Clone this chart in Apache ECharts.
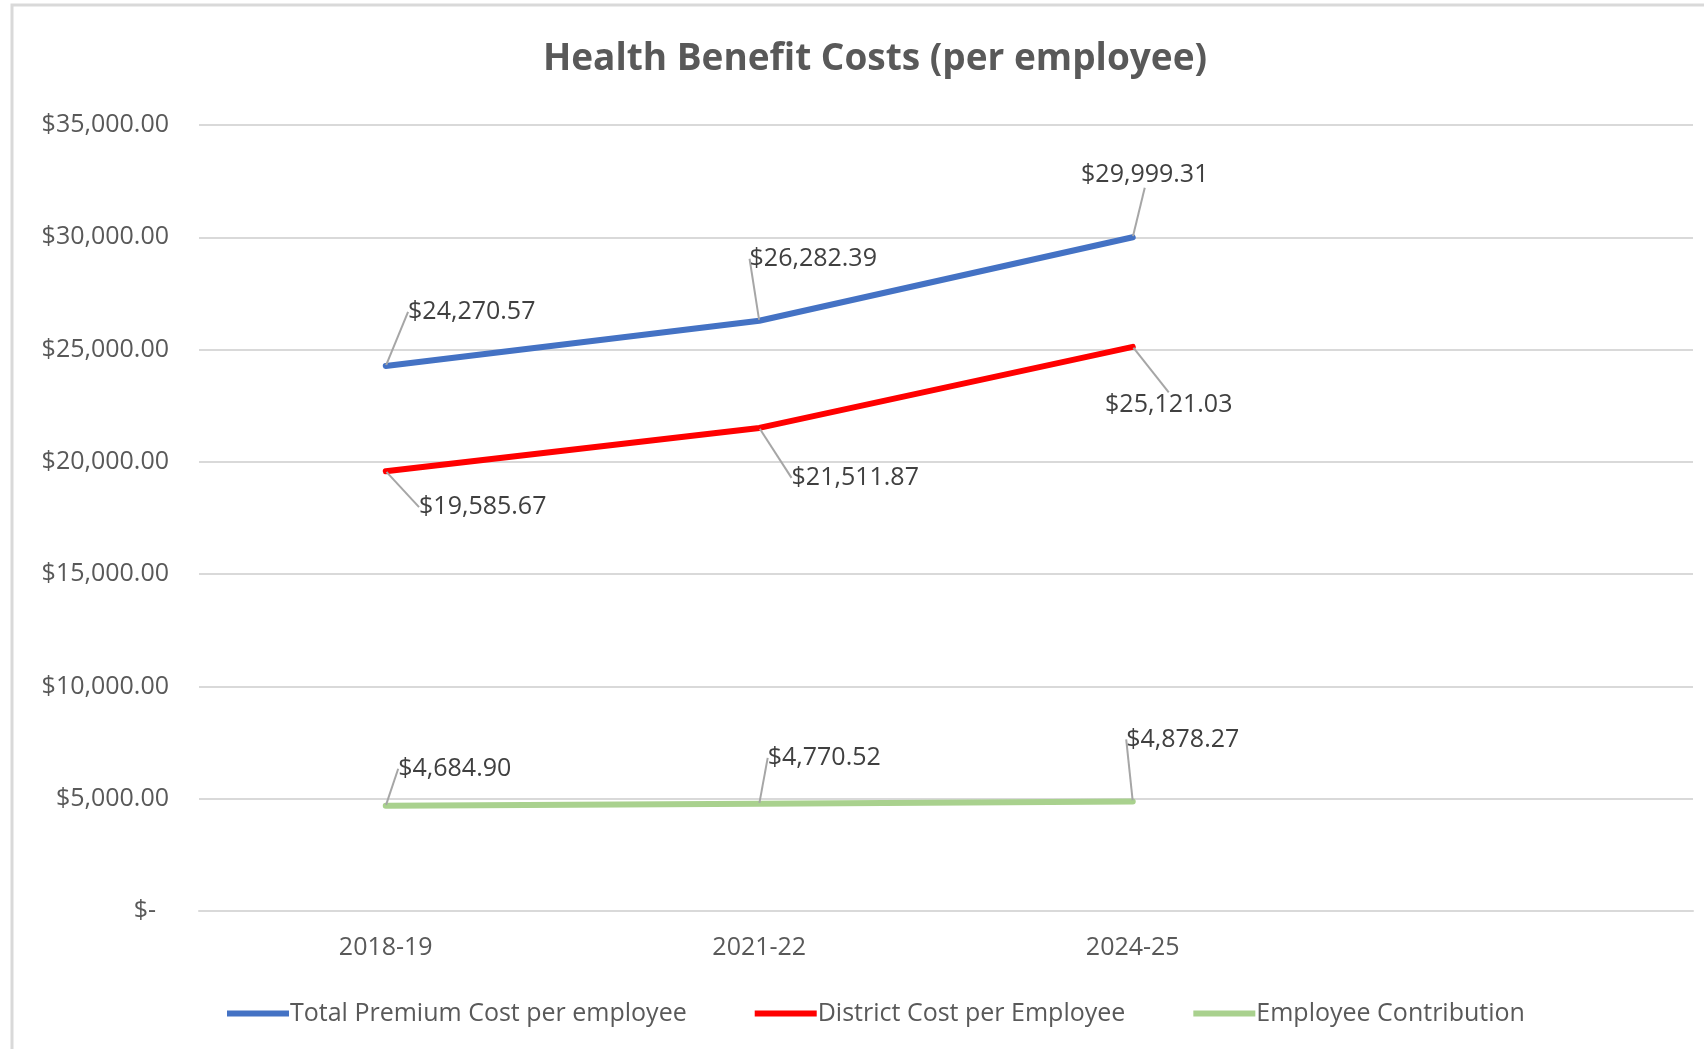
<!DOCTYPE html>
<html>
<head>
<meta charset="utf-8">
<script src="https://cdn.jsdelivr.net/npm/echarts@6/dist/echarts.min.js"></script>
<style>
html,body{margin:0;padding:0;background:#fff;}
#c{width:1704px;height:1049px;}
</style>
</head>
<body>
<div id="c"></div>
<script>
const categories = ["2018-19", "2021-22", "2024-25", ""];
const totalPremium = [24270.57, 26282.39, 29999.31, null];
const districtCost = [19585.67, 21511.87, 25121.03, null];
const employeeContribution = [4684.90, 4770.52, 4878.27, null];
const seriesNames = ["Total Premium Cost per employee", "District Cost per Employee", "Employee Contribution"];
const yTicks = { min: 0, max: 35000, interval: 5000 };

// label offsets (style only), per series per point, relative to the point
const labelOffsets = [
  [[86, -54], [54, -62], [12, -62]],
  [[97, 36], [96, 50], [36, 58]],
  [[69, -37], [65, -46], [50, -62]]
];

const FONT = '"Open Sans", "Noto Sans", sans-serif';
function money(v) {
  return '$' + Number(v).toLocaleString('en-US', {minimumFractionDigits: 2, maximumFractionDigits: 2});
}

const colors = ['#4472C4', '#FF0000', '#A9D18E'];
const dataSets = [totalPremium, districtCost, employeeContribution];

const chart = echarts.init(document.getElementById('c'), null, {renderer: 'canvas'});

const series = dataSets.map((d, si) => ({
  name: seriesNames[si],
  type: 'line',
  data: d,
  symbol: 'circle',
  symbolSize: 2,
  showSymbol: true,
  lineStyle: { color: colors[si], width: 6, cap: 'round', join: 'round' },
  itemStyle: { color: colors[si] },
  label: {
    show: true,
    position: 'inside',
    formatter: p => money(p.value),
    color: '#404040',
    fontFamily: FONT,
    fontSize: 25
  },
  labelLine: {
    show: true,
    lineStyle: { color: '#A6A6A6', width: 2 }
  },
  labelLayout: function (params) {
    const off = labelOffsets[si][params.dataIndex] || [0, 0];
    return { dx: off[0], dy: off[1] };
  },
  emphasis: { disabled: true },
  z: 3 - si
}));

const option = {
  backgroundColor: '#fff',
  animation: false,
  title: {
    text: 'Health Benefit Costs (per employee)',
    left: 870,
    textAlign: 'center',
    top: 36,
    textStyle: { fontFamily: FONT, fontSize: 37, fontWeight: 'bold', color: '#595959' }
  },
  grid: { left: 199, right: 11, top: 125, bottom: 138, containLabel: false },
  xAxis: {
    type: 'category',
    data: categories,
    boundaryGap: true,
    axisLine: { show: true, lineStyle: { color: '#D9D9D9', width: 2 } },
    axisTick: { show: false },
    axisLabel: { color: '#595959', fontFamily: FONT, fontSize: 25, margin: 24 }
  },
  yAxis: {
    type: 'value',
    min: yTicks.min,
    max: yTicks.max,
    interval: yTicks.interval,
    axisLine: { show: false },
    axisTick: { show: false },
    splitLine: { lineStyle: { color: '#D9D9D9', width: 2 } },
    axisLabel: {
      color: '#595959', fontFamily: FONT, fontSize: 25, margin: 30,
      formatter: v => v === 0 ? '$-  ' : money(v)
    }
  },
  legend: {
    data: seriesNames,
    left: 222,
    top: 996,
    itemWidth: 62,
    itemHeight: 6,
    itemGap: 68,
    icon: 'rect',
    textStyle: { color: '#595959', fontFamily: FONT, fontSize: 25, padding: [0, 0, 0, -4] }
  },
  graphic: [{
    type: 'rect',
    shape: { x: 12, y: 5, width: 1720, height: 1100 },
    style: { fill: 'none', stroke: '#D9D9D9', lineWidth: 3 },
    silent: true
  }],
  series: series
};
chart.setOption(option);
</script>
</body>
</html>
